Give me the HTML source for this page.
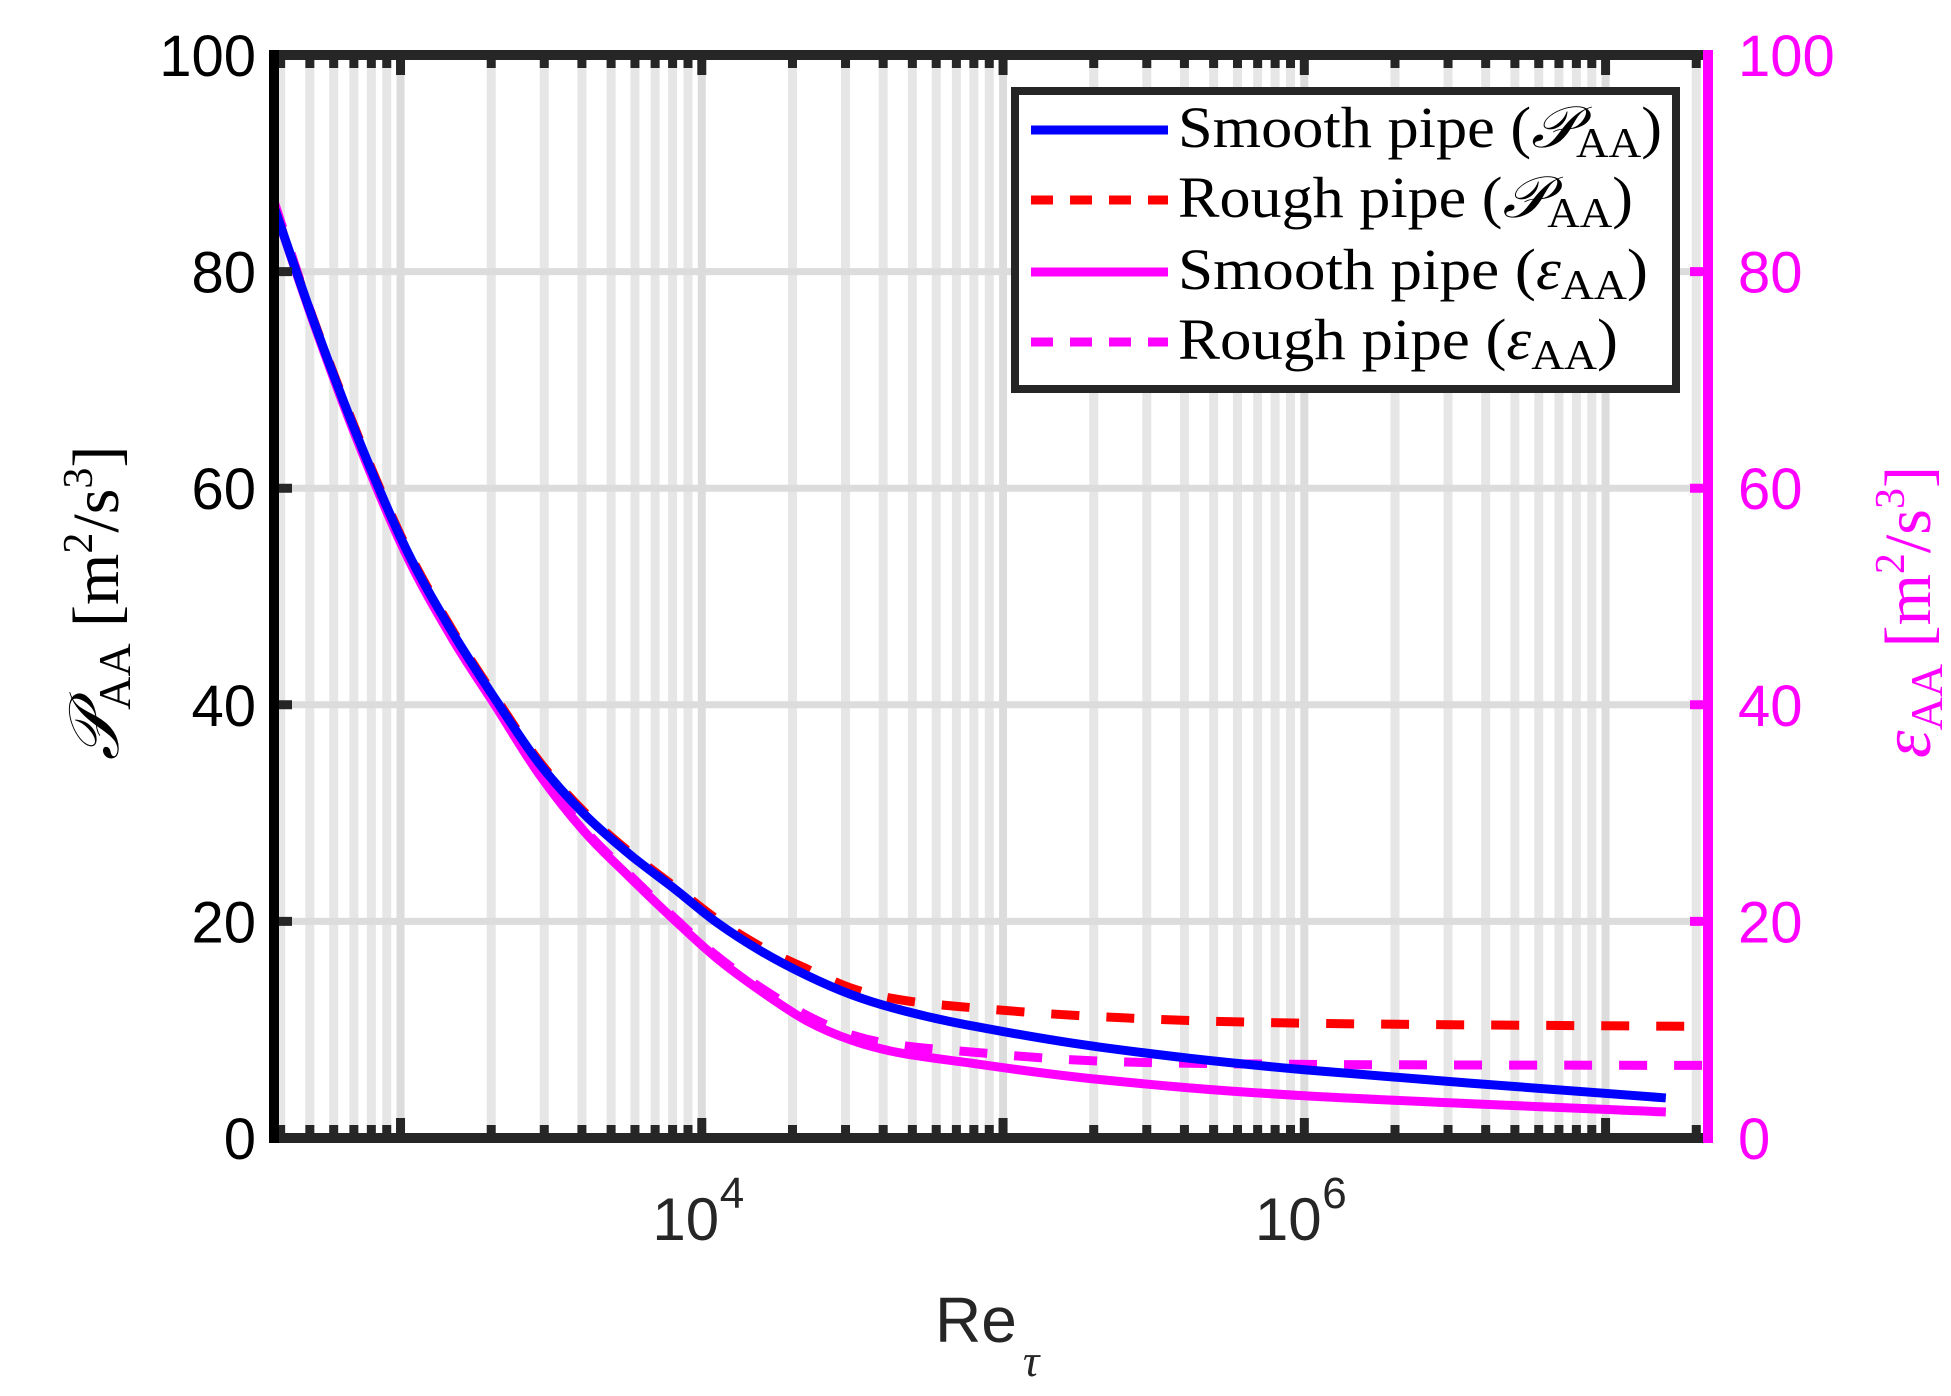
<!DOCTYPE html>
<html><head><meta charset="utf-8"><style>
html,body{margin:0;padding:0;background:#fff;}
svg{display:block;}
</style></head><body>
<svg id="chart" width="1951" height="1396" viewBox="0 0 1951 1396" xmlns="http://www.w3.org/2000/svg">
<g id="grid"></g>
<g id="series"></g>
<g id="axes"></g>
<g id="legend"></g>
</svg>
<script>
// ---- data (x values are log10(Re_tau)) ----
const xSmoothP = [2.58,2.725,2.871,3.02,3.17,3.315,3.46,3.61,3.76,3.91,4.05,4.20,4.35,4.50,4.65,4.87,5.32,6.00,7.20];
const ySmoothP = [86.0,74.4,63.8,54.3,46.8,40.5,34.6,29.9,26.2,23.0,19.9,17.2,15.0,13.2,11.9,10.5,8.4,6.3,3.7];
const xRoughP  = [2.58,2.725,2.871,3.02,3.17,3.315,3.46,3.61,3.76,3.91,4.05,4.20,4.35,4.50,4.65,4.87,5.32,6.00,7.34];
const yRoughP  = [86.0,74.5,64.0,54.5,47.0,40.7,34.8,30.1,26.4,23.2,20.2,17.6,15.6,13.8,12.8,12.1,11.2,10.6,10.3];
const xSmoothE = [2.58,2.725,2.871,3.02,3.17,3.315,3.46,3.61,3.76,3.91,4.05,4.20,4.35,4.50,4.65,4.87,5.32,6.00,7.20];
const ySmoothE = [86.0,74.2,63.4,53.8,46.2,39.9,33.6,28.3,24.1,20.1,16.6,13.5,10.8,9.0,7.9,7.0,5.4,3.9,2.4];
const xRoughE  = [2.58,2.725,2.871,3.02,3.17,3.315,3.46,3.61,3.76,3.91,4.05,4.20,4.35,4.50,4.65,4.87,5.32,6.00,7.34];
const yRoughE  = [86.5,74.4,63.6,54.0,46.4,40.1,33.8,28.5,24.3,20.3,16.8,13.8,11.3,9.5,8.6,8.0,7.1,6.8,6.7];
const yTicks = [0,20,40,60,80,100];
const xMajorExp = [4,6];

const NS="http://www.w3.org/2000/svg";
const L=274,R=1708,T=55,B=1138;
const XMIN=2.58,XMAX=7.34,YMIN=0,YMAX=100;
const sx=v=>L+(v-XMIN)/(XMAX-XMIN)*(R-L);
const sy=v=>B-(v-YMIN)/(YMAX-YMIN)*(B-T);
function mk(tag,attrs,parent){const e=document.createElementNS(NS,tag);for(const k in attrs)e.setAttribute(k,attrs[k]);parent.appendChild(e);return e;}
const grid=document.getElementById('grid'),axes=document.getElementById('axes'),series=document.getElementById('series'),legend=document.getElementById('legend');

for(let d=2;d<=7;d++){for(let k=1;k<=9;k++){const lv=d+Math.log10(k);if(lv<=XMIN+0.005||lv>=XMAX)continue;const x=sx(lv);
 const g=mk('line',{x1:x,x2:x,y1:T,y2:B,stroke:k===1?'#dcdcdc':'#e6e6e6','stroke-width':k===1?8:9},grid);
 
 
 const t1=mk('line',{x1:x,x2:x,y1:B,y2:B-(k===1?20:13),stroke:'#262626','stroke-width':9},axes);
 
 
 const t2=mk('line',{x1:x,x2:x,y1:T,y2:T+(k===1?20:13),stroke:'#262626','stroke-width':9},axes);
 
 
}}
yTicks.forEach(v=>{const y=sy(v);
 if(v>0&&v<100){const g=mk('line',{x1:L,x2:R,y1:y,y2:y,stroke:'#dcdcdc','stroke-width':7},grid);
 
 }
 const tl=mk('line',{x1:L,x2:L+18,y1:y,y2:y,stroke:'#262626','stroke-width':9},axes);
 
 
 const tr=mk('line',{x1:R,x2:R-18,y1:y,y2:y,stroke:'#ff00ff','stroke-width':9},axes);
 
 
 const lt=mk('text',{x:256,y:y+21,'text-anchor':'end','font-family':'Liberation Sans, sans-serif','font-size':58,fill:'#000'},axes);
 lt.textContent=v;
 
 
 const rt=mk('text',{x:1738,y:y+21,'text-anchor':'start','font-family':'Liberation Sans, sans-serif','font-size':58,fill:'#ff00ff'},axes);
 rt.textContent=v;
 
 
});
const ab=mk('path',{d:`M${L},${T}H${R}M${L},${B}H${R}`,stroke:'#262626','stroke-width':10,fill:'none'},axes);


const al=mk('line',{x1:L,x2:L,y1:T-5,y2:B+5,stroke:'#000','stroke-width':10},axes);


const ar=mk('line',{x1:R,x2:R,y1:T-5,y2:B+5,stroke:'#ff00ff','stroke-width':10},axes);


xMajorExp.forEach(e=>{const x=sx(e);
 const t=mk('text',{x:x-16,y:1240,'text-anchor':'middle','font-family':'Liberation Sans, sans-serif','font-size':60,fill:'#262626'},axes);
 t.textContent='10';
 
 
 const s=mk('text',{x:x+18,y:1208,'text-anchor':'start','font-family':'Liberation Sans, sans-serif','font-size':44,fill:'#262626'},axes);
 s.textContent=e;
 
 
});
function pathD(xs,ys){const p=xs.map((v,i)=>[sx(v),sy(ys[i])]);let d=`M${p[0][0]},${p[0][1]}`;
 for(let i=0;i<p.length-1;i++){const p0=p[Math.max(0,i-1)],p1=p[i],p2=p[i+1],p3=p[Math.min(p.length-1,i+2)];
 const c1=[p1[0]+(p2[0]-p0[0])/6,p1[1]+(p2[1]-p0[1])/6],c2=[p2[0]-(p3[0]-p1[0])/6,p2[1]-(p3[1]-p1[1])/6];
 d+=`C${c1[0]},${c1[1]} ${c2[0]},${c2[1]} ${p2[0]},${p2[1]}`;}return d;}
const defs=[
 [xSmoothE,ySmoothE,'#ff00ff',null,'series-smooth-epsilon'],
 [xRoughE,yRoughE,'#ff00ff','28 27','series-rough-epsilon'],
 [xRoughP,yRoughP,'#ff0000','28 27','series-rough-production'],
 [xSmoothP,ySmoothP,'#0000ff',null,'series-smooth-production']];
defs.forEach(([xs,ys,c,da,n])=>{const a={d:pathD(xs,ys),fill:'none',stroke:c,'stroke-width':9};if(da)a['stroke-dasharray']=da;
 const p=mk('path',a,series);
 
 });
const xt=mk('text',{x:935,y:1342,'font-family':'Liberation Sans, sans-serif','font-size':64,fill:'#262626'},axes);
xt.innerHTML='Re<tspan font-family="Liberation Serif, serif" font-style="italic" font-size="46" dx="6" dy="34">τ</tspan>';


const yl=mk('text',{x:0,y:0,transform:'translate(118,603) rotate(-90)','text-anchor':'middle','font-family':'Liberation Serif, serif','font-size':66,fill:'#000'},axes);
yl.innerHTML='<tspan font-style="italic" font-size="70">𝒫</tspan><tspan font-size="46" dy="12">AA</tspan><tspan dy="-12"> [m</tspan><tspan font-size="42" dy="-26">2</tspan><tspan dy="26">/s</tspan><tspan font-size="42" dy="-26">3</tspan><tspan dy="26">]</tspan>';


const yr=mk('text',{x:0,y:0,transform:'translate(1930,612) rotate(-90)','text-anchor':'middle','font-family':'Liberation Serif, serif','font-size':66,fill:'#ff00ff'},axes);
yr.innerHTML='<tspan font-style="italic" font-size="70">ε</tspan><tspan font-size="46" dy="12">AA</tspan><tspan dy="-12"> [m</tspan><tspan font-size="42" dy="-26">2</tspan><tspan dy="26">/s</tspan><tspan font-size="42" dy="-26">3</tspan><tspan dy="26">]</tspan>';


const lb=mk('rect',{x:1015,y:91,width:661,height:298,fill:'#fff',stroke:'#262626','stroke-width':8},legend);


const entries=[['Smooth pipe (','𝒫','#0000ff',null,484],['Rough pipe (','𝒫','#ff0000','22 17',455],['Smooth pipe (','ε','#ff00ff',null,470],['Rough pipe (','ε','#ff00ff','22 17',440]];
const rows=[130,200,272,342];
entries.forEach((e,i)=>{const y=rows[i];
 const a={x1:1031,x2:1168,y1:y,y2:y,stroke:e[2],'stroke-width':9};if(e[3])a['stroke-dasharray']=e[3];
 const ln=mk('line',a,legend);
 
 
 const t=mk('text',{x:1178,y:y+17,'font-family':'Liberation Serif, serif','font-size':58,fill:'#000',textLength:e[4],lengthAdjust:'spacingAndGlyphs'},legend);
 t.innerHTML=e[0]+'<tspan font-style="italic">'+e[1]+'</tspan><tspan font-size="42" dy="10">AA</tspan><tspan dy="-10">)</tspan>';
 
 
});
</script>
</body></html>
